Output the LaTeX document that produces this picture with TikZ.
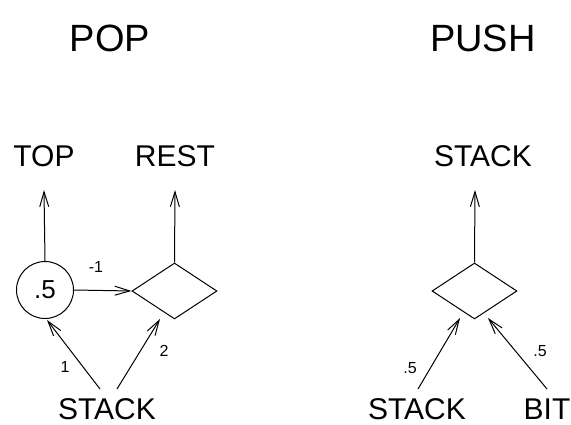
\documentclass[tikz,border=0pt]{standalone}
\usepackage{fontspec}
\setmainfont{Liberation Sans}
\usetikzlibrary{arrows.meta,shapes.geometric}
\begin{document}
\begin{tikzpicture}[x=1pt,y=-1pt,
  title/.style={font=\fontsize{38}{40}\selectfont,anchor=base},
  lbl/.style={font=\fontsize{30}{32}\selectfont,anchor=base,inner sep=0},
  wt/.style={font=\fontsize{16}{17}\selectfont,inner sep=0},
  link/.style={line width=1pt,-{Straight Barb[length=15pt,width=9pt,line width=1pt]}},
  gate/.style={draw,line width=1pt,diamond,minimum width=85pt,minimum height=56pt,inner sep=0},
  unit/.style={draw,line width=1pt,circle,minimum size=57pt,inner sep=0,font=\fontsize{26}{28}\selectfont}]
\useasboundingbox (0,0) rectangle (571,425);

% headings
\node[title] (pop) at (110,52) {POP};
\node[title] (push) at (483,52) {PUSH};

% POP network
\node[lbl] (top) at (44,167) {TOP};
\node[lbl] (rest) at (175,167) {REST};
\node[unit] (half) at (45,290) {.5};
\node[gate] (pd) at (174.5,291) {};
\node[lbl] (pin) at (107,419) {STACK};
\coordinate (topin) at (44,190);
\coordinate (restin) at (175,190);
\coordinate (s1) at (100,389);
\coordinate (s2) at (117,389);
\coordinate (t1) at (47,320);
\coordinate (t2) at (160,319);

\draw[link] (half.north) -- (topin);
\draw[link] (pd.north) -- (restin);
\draw[link] (half.east) -- (pd.west);
\draw[link] (s1) -- (t1);
\draw[link] (s2) -- (t2);
\node[wt] (wm1) at (96,267) {-1};
\node[wt] (w1) at (65,367) {1};
\node[wt] (w2) at (164,351) {2};

% PUSH network
\node[lbl] (stk) at (483,167) {STACK};
\node[gate] (ud) at (474.5,291) {};
\node[lbl] (uin) at (417,419) {STACK};
\node[lbl] (bit) at (547,419) {BIT};
\coordinate (stkin) at (475,190);
\coordinate (u1) at (418,389);
\coordinate (u2) at (547,389);
\coordinate (v1) at (460,318);
\coordinate (v2) at (488,318);

\draw[link] (ud.north) -- (stkin);
\draw[link] (u1) -- (v1);
\draw[link] (u2) -- (v2);
\node[wt] (wa) at (410,368) {.5};
\node[wt] (wb) at (540,351) {.5};
\end{tikzpicture}
\end{document}
